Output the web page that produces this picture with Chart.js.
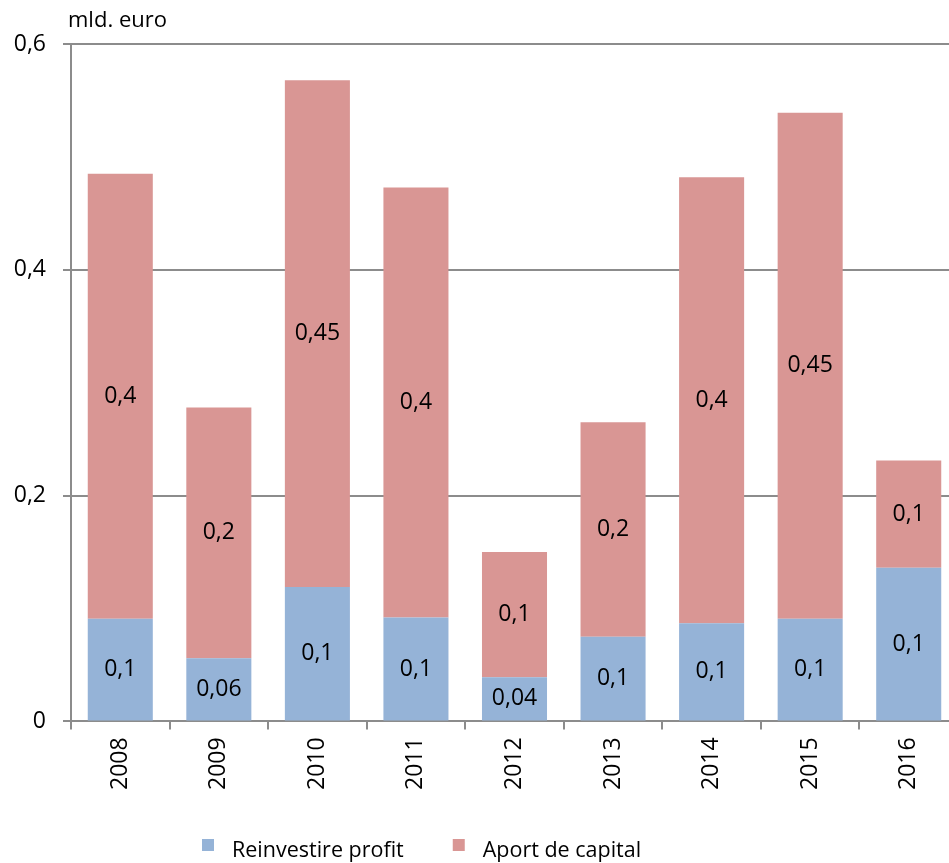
<!DOCTYPE html>
<html>
<head>
<meta charset="utf-8">
<script src="https://cdn.jsdelivr.net/npm/chart.js@4.4.4/dist/chart.umd.min.js"></script>
<style>
  html, body { margin: 0; padding: 0; background: #fff; overflow: hidden; }
  #wrap { position: relative; width: 958px; height: 863px; }
</style>
</head>
<body>
<div id="wrap"><canvas id="chart"></canvas></div>
<script>
  const years = ['2008', '2009', '2010', '2011', '2012', '2013', '2014', '2015', '2016'];
  // values (mld. euro)
  const reinvestire = [0.091, 0.056, 0.119, 0.092, 0.039, 0.075, 0.087, 0.091, 0.136];
  const aport = [0.394, 0.222, 0.449, 0.381, 0.111, 0.190, 0.395, 0.448, 0.095];
  // the labels printed on the bars (rounded in the original)
  const reinvestireLabels = ['0,1', '0,06', '0,1', '0,1', '0,04', '0,1', '0,1', '0,1', '0,1'];
  const aportLabels = ['0,4', '0,2', '0,45', '0,4', '0,1', '0,2', '0,4', '0,45', '0,1'];

  const FONT = '"Open Sans", "Liberation Sans", sans-serif';
  const blue = '#95b3d7', red = '#d99694', grey = '#8c8c8c';

  const barLabels = {
    id: 'barLabels',
    afterDatasetsDraw(chart) {
      const ctx = chart.ctx;
      const sets = [reinvestireLabels, aportLabels];
      ctx.save();
      ctx.font = '23px ' + FONT;
      ctx.fillStyle = '#000';
      ctx.textAlign = 'center';
      ctx.textBaseline = 'middle';
      sets.forEach((labels, i) => {
        chart.getDatasetMeta(i).data.forEach((bar, j) => {
          ctx.fillText(labels[j], bar.x, (bar.y + bar.base) / 2);
        });
      });
      ctx.restore();
    }
  };

  // y title + legend drawn relative to the chart area
  const extras = {
    id: 'extras',
    afterDraw(chart) {
      const ctx = chart.ctx, a = chart.chartArea;
      ctx.save();
      ctx.font = '22px ' + FONT;
      ctx.fillStyle = '#000';
      ctx.textBaseline = 'middle';
      ctx.textAlign = 'left';
      ctx.fillText('mld. euro', a.left - 3, a.top - 23);
      const items = [['Reinvestire profit', blue], ['Aport de capital', red]];
      let x = 202;
      const y = 851;
      ctx.font = '21.5px ' + FONT;
      items.forEach(([txt, col]) => {
        ctx.fillStyle = col;
        ctx.fillRect(x, y - 12, 12, 12);
        ctx.fillStyle = '#000';
        ctx.fillText(txt, x + 30, y);
        x += 30 + ctx.measureText(txt).width + 49;
      });
      ctx.restore();
    }
  };

  new Chart(document.getElementById('chart'), {
    type: 'bar',
    data: {
      labels: years,
      datasets: [
        { label: 'Reinvestire profit', data: reinvestire, backgroundColor: blue, borderWidth: 0 },
        { label: 'Aport de capital', data: aport, backgroundColor: red, borderWidth: 0 }
      ]
    },
    options: {
      responsive: true, maintainAspectRatio: false, animation: false,
      layout: { padding: { top: 44, left: 0, right: 0, bottom: 65 } },
      plugins: { legend: { display: false }, tooltip: { enabled: false } },
      datasets: { bar: { barPercentage: 0.66, categoryPercentage: 1 } },
      scales: {
        x: {
          stacked: true,
          grid: { offset: true, drawOnChartArea: false, drawTicks: true, tickLength: 8, color: grey, lineWidth: 2 },
          border: { display: true, color: grey, width: 2 },
          ticks: { minRotation: 90, maxRotation: 90, color: '#000', padding: 8, font: { family: FONT, size: 23 } }
        },
        y: {
          stacked: true, min: 0, max: 0.6,
          afterFit: s => { s.width = 71; },
          grid: { color: grey, lineWidth: 2, drawTicks: true, tickLength: 8 },
          border: { display: true, color: grey, width: 2 },
          ticks: {
            stepSize: 0.2, color: '#000', padding: 17,
            font: { family: FONT, size: 23 },
            callback: v => v === 0 ? '0' : v.toFixed(1).replace('.', ',')
          }
        }
      }
    },
    plugins: [barLabels, extras]
  });
</script>
</body>
</html>
